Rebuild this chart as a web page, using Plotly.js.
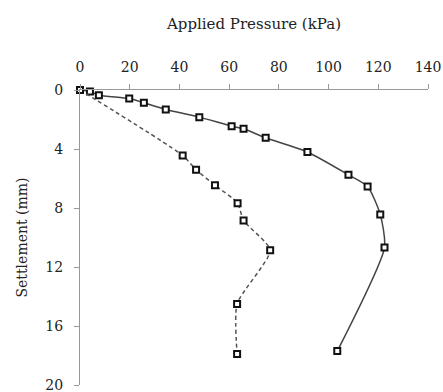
<!DOCTYPE html>
<html><head><meta charset="utf-8">
<script src="https://cdn.plot.ly/plotly-3.0.1.min.js"></script>
<style>html,body{margin:0;padding:0;background:#fff}#c{width:443px;height:392px}</style>
</head><body><div id="c"></div>
<script>
const pressureA = [0, 4, 7.6, 19.8, 25.7, 34.5, 48, 61, 65.8, 74.7, 91.5, 108, 115.7, 120.8, 122.5, 103.5];
const settleA   = [0, 0.1, 0.35, 0.58, 0.87, 1.32, 1.84, 2.45, 2.63, 3.24, 4.2, 5.75, 6.54, 8.44, 10.68, 17.7];
const pressureB = [0, 41.3, 46.7, 54.3, 63.4, 65.8, 76.5, 63.2, 63.2];
const settleB   = [0, 4.44, 5.41, 6.45, 7.67, 8.85, 10.86, 14.5, 17.9];
const xTicks = [0, 20, 40, 60, 80, 100, 120, 140];
const yTicks = [0, 4, 8, 12, 16, 20];

const marker = {symbol: 'square', size: 6, color: '#ffffff', line: {color: '#111', width: 2}};
const traces = [
  {x: pressureA, y: settleA, mode: 'lines+markers', line: {color: '#444', width: 1.5, shape: 'spline', smoothing: 0.6}, marker: marker, showlegend: false, cliponaxis: false},
  {x: pressureB, y: settleB, mode: 'lines+markers', line: {color: '#555', width: 1.5, dash: '4px,3px', shape: 'spline', smoothing: 0.6}, marker: marker, showlegend: false, cliponaxis: false}
];
const tickFont = {family: 'DejaVu Serif, serif', size: 14, color: '#222'};
const titleFont = {family: 'DejaVu Serif, serif', size: 15, color: '#222'};
const layout = {
  width: 443, height: 392,
  margin: {l: 80, r: 15, t: 90, b: 7},
  paper_bgcolor: '#fff', plot_bgcolor: '#fff',
  font: tickFont,
  xaxis: {
    side: 'top', range: [0, 140], tickvals: xTicks, ticktext: xTicks.map(String),
    showgrid: false, zeroline: false, showline: true, linecolor: '#999', linewidth: 1,
    ticks: 'outside', ticklen: 5, tickcolor: '#999', ticklabelstandoff: 6,
    tickfont: tickFont,
    title: {text: 'Applied Pressure (kPa)', standoff: 26, font: titleFont}
  },
  yaxis: {
    range: [20, 0], tickvals: yTicks, ticktext: yTicks.map(String),
    showgrid: false, zeroline: false, showline: true, linecolor: '#999', linewidth: 1,
    ticks: 'outside', ticklen: 5, tickcolor: '#999', ticklabelstandoff: 8, ticklabeloverflow: 'allow',
    tickfont: tickFont,
    title: {text: 'Settlement (mm)', standoff: 14, font: {family: 'DejaVu Serif, serif', size: 14, color: '#222'}}
  }
};
Plotly.newPlot('c', traces, layout, {displayModeBar: false, staticPlot: true});
</script></body></html>
